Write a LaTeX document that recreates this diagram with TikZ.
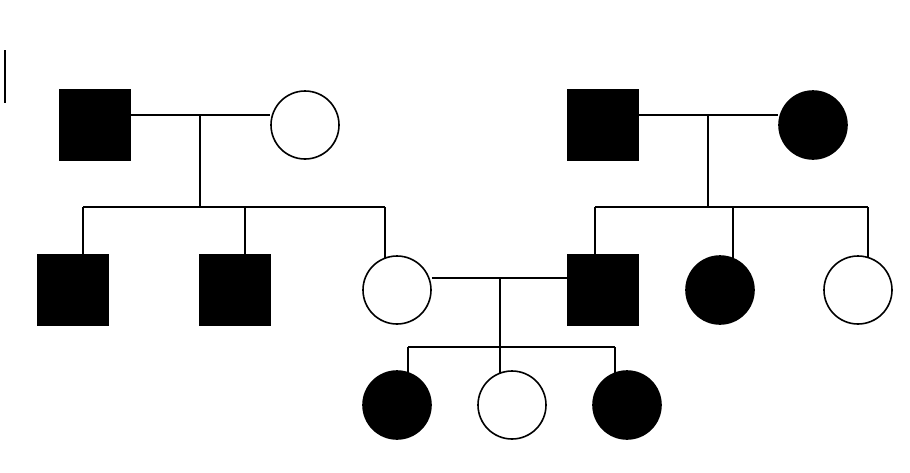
\documentclass[tikz,border=0pt]{standalone}
\begin{document}
\begin{tikzpicture}[x=1pt,y=-1pt,line width=1.6pt,
 male/.style={draw,rectangle,minimum size=70pt,inner sep=0pt},
 female/.style={draw,circle,minimum size=68pt,inner sep=0pt},
 aff/.style={fill=black}]
\useasboundingbox (0,0) rectangle (910,472);
\draw (5,50) -- (5,103);
\node[male,aff] (a) at (95,125) {};
\node[female] (b) at (305,125) {};
\node[male,aff] (c) at (603,125) {};
\node[female,aff] (d) at (813,125) {};
\node[male,aff] (e) at (73,290) {};
\node[male,aff] (f) at (235,290) {};
\node[female] (g) at (397,290) {};
\node[male,aff] (h) at (603,290) {};
\node[female,aff] (i) at (720,290) {};
\node[female] (j) at (858,290) {};
\node[female,aff] (k) at (397,405) {};
\node[female] (l) at (512,405) {};
\node[female,aff] (m) at (627,405) {};
\draw (a.east |- 0,115) -- (b.west |- 0,115);
\draw (c.east |- 0,115) -- (d.west |- 0,115);
\draw (g.east |- 0,278) -- (h.west |- 0,278);
\coordinate (p1) at (200,115); \coordinate (q1) at (200,207);
\draw (p1) -- (q1);
\draw (83,207) -- (385,207);
\draw (83,207) -- (83,255) (245,207) -- (245,255) (385,207) -- (385,258);
\coordinate (p2) at (708,115); \coordinate (q2) at (708,207);
\draw (p2) -- (q2);
\draw (595,207) -- (868,207);
\draw (595,207) -- (595,255) (733,207) -- (733,258) (868,207) -- (868,258);
\coordinate (p3) at (500,278); \coordinate (q3) at (500,347);
\draw (p3) -- (q3);
\draw (408,347) -- (615,347);
\draw (408,347) -- (408,373) (500,347) -- (500,373) (615,347) -- (615,373);
\end{tikzpicture}
\end{document}
